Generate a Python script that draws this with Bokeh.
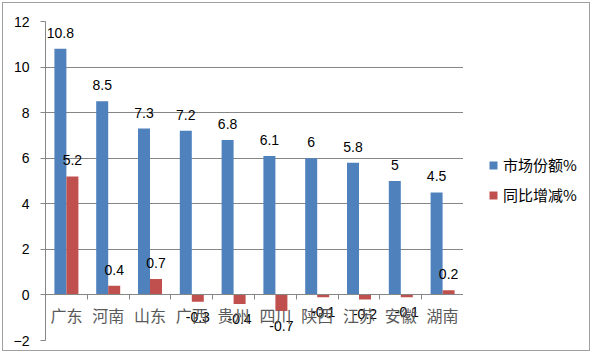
import numpy as np
from bokeh.plotting import figure
from bokeh.layouts import row
from bokeh.models import (Range1d, FixedTicker, LinearAxis, Legend, LegendItem,
                          ColumnDataSource)
from bokeh.embed import file_html
from bokeh.resources import INLINE

provinces = ["广东", "河南", "山东", "广西", "贵州", "四川", "陕西", "江苏", "安徽", "湖南"]
market_share = [10.8, 8.5, 7.3, 7.2, 6.8, 6.1, 6.0, 5.8, 5.0, 4.5]
yoy_change = [5.2, 0.4, 0.7, -0.3, -0.4, -0.7, -0.1, -0.2, -0.1, 0.2]
y_ticks = [-2, 0, 2, 4, 6, 8, 10, 12]
series_names = ["市场份额%", "同比增减%"]

BLUE = "#4F81BD"
RED = "#C0504D"
GRID = "#868686"
BORDER = "#a0a0a0"
NUM_FONT = "Liberation Sans"
CJK_FONT = "Noto Sans CJK SC"

n = len(provinces)
centers = np.arange(n) + 0.5
bw = 0.287

p = figure(width=463, height=353, output_backend="svg", toolbar_location=None,
           x_range=Range1d(0, n), y_range=Range1d(min(y_ticks), max(y_ticks)),
           min_border_left=45, min_border_right=0, min_border_top=21,
           min_border_bottom=13, x_axis_type=None)
p.outline_line_color = None
p.background_fill_color = "white"
p.border_fill_alpha = 0

# grid
p.xgrid.visible = False
p.ygrid.ticker = FixedTicker(ticks=y_ticks)
p.ygrid.grid_line_color = GRID
p.ygrid.grid_line_width = 1

# y axis
ya = p.yaxis[0]
ya.ticker = FixedTicker(ticks=y_ticks)
ya.axis_line_color = GRID
ya.major_tick_line_color = GRID
ya.major_tick_out = 5
ya.major_tick_in = 0
ya.minor_tick_line_color = None
ya.major_label_standoff = 11
ya.major_label_text_font = NUM_FONT
ya.major_label_text_font_size = "14px"
ya.major_label_text_color = "#000000"

# x axis at y=0 with ticks at category boundaries
xa = LinearAxis(fixed_location=0, ticker=FixedTicker(ticks=list(range(n + 1))))
xa.axis_line_color = GRID
xa.major_tick_line_color = GRID
xa.major_tick_out = 5
xa.major_tick_in = 0
xa.minor_tick_line_color = None
xa.major_label_text_alpha = 0
xa.major_label_text_font_size = "1px"
p.add_layout(xa, "below")

# category labels axis
xl = LinearAxis(fixed_location=0, ticker=FixedTicker(ticks=list(centers)))
xl.major_label_overrides = {float(c): name for c, name in zip(centers, provinces)}
xl.axis_line_color = None
xl.major_tick_line_color = None
xl.major_tick_out = 0
xl.major_tick_in = 0
xl.minor_tick_line_color = None
xl.major_label_standoff = 8
xl.major_label_text_font = CJK_FONT
xl.major_label_text_font_size = "16px"
xl.major_label_text_color = "#595959"
p.add_layout(xl, "below")

src_b = ColumnDataSource(dict(x=centers - bw / 2, top=market_share))
src_r = ColumnDataSource(dict(x=centers + bw / 2, top=yoy_change))
rb = p.vbar(x="x", top="top", bottom=0, width=bw, source=src_b,
            fill_color=BLUE, line_color=None)
rr = p.vbar(x="x", top="top", bottom=0, width=bw, source=src_r,
            fill_color=RED, line_color=None)

# labels
def fmt(v):
    return f"{v:g}"

p.text(x=centers - bw / 2, y=market_share, text=[fmt(v) for v in market_share],
       text_align="center", text_baseline="bottom", y_offset=-11,
       text_font=dict(value=NUM_FONT), text_font_size="14px", text_color="#000000")

yoy = np.array(yoy_change)
pos = yoy >= 0
neg = ~pos
rx = centers + bw / 2
p.text(x=rx[pos], y=yoy[pos], text=[fmt(v) for v in yoy[pos]],
       text_align="center", text_baseline="bottom", y_offset=-11,
       text_font=dict(value=NUM_FONT), text_font_size="14px", text_color="#000000")
p.text(x=rx[neg], y=yoy[neg], text=[fmt(v) for v in yoy[neg]],
       text_align="center", text_baseline="top", y_offset=10,
       text_font=dict(value=NUM_FONT), text_font_size="14px", text_color="#000000")

# legend panel (separate small figure to the right of the plot area)
pl = figure(width=129, height=353, output_backend="svg", toolbar_location=None,
            x_range=Range1d(0, 1), y_range=Range1d(0, 1),
            x_axis_type=None, y_axis_type=None,
            min_border_left=0, min_border_right=0, min_border_top=0,
            min_border_bottom=0)
pl.outline_line_color = None
pl.background_fill_alpha = 0
pl.border_fill_alpha = 0
pl.xgrid.visible = False
pl.ygrid.visible = False
# zero-size proxy bars that only carry the legend swatch styles
lb = pl.vbar(x=[0.5], top=[0], bottom=0, width=0, fill_color=BLUE, line_color=None)
lr = pl.vbar(x=[0.5], top=[0], bottom=0, width=0, fill_color=RED, line_color=None)

legend = Legend(items=[LegendItem(label=series_names[0], renderers=[lb]),
                       LegendItem(label=series_names[1], renderers=[lr])],
                location=(25, 135), padding=0, spacing=9, margin=0,
                glyph_width=10, glyph_height=10, label_standoff=5, label_height=20,
                border_line_color=None, background_fill_alpha=0,
                label_text_font=CJK_FONT, label_text_font_size="15px",
                label_text_color="#000000")
pl.add_layout(legend, "center")

layout = row(p, pl, spacing=0)
layout.styles = {"outline": f"1.5px solid {BORDER}", "outline-offset": "-3px",
                 "background-color": "white"}

open("out.html", "w").write(file_html(layout, INLINE))
